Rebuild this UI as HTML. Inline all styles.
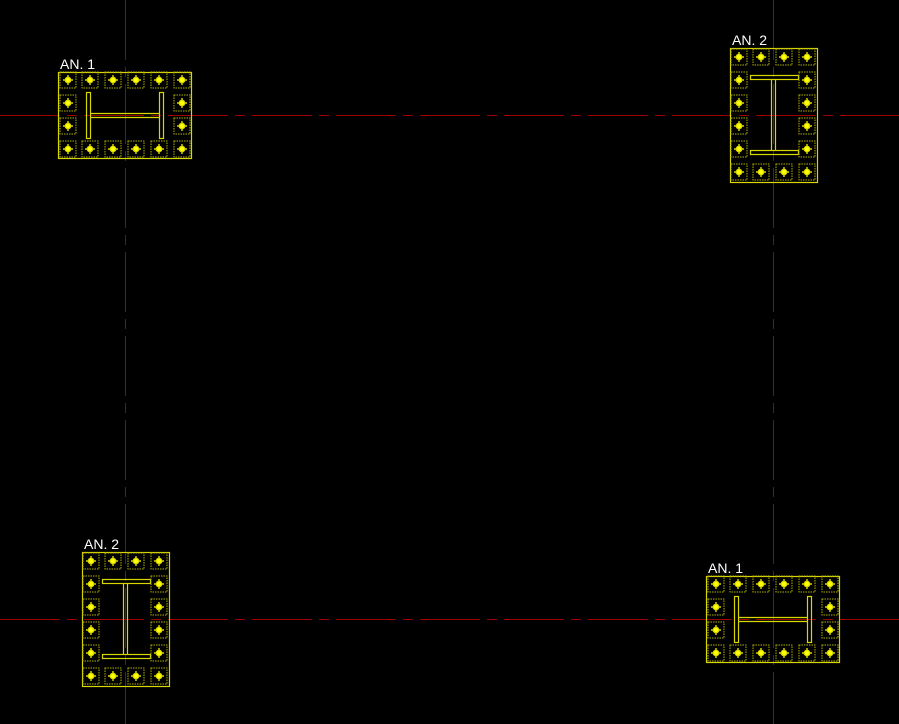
<!DOCTYPE html>
<html><head><style>html,body{margin:0;padding:0;background:#000;}svg{display:block}</style></head>
<body>
<svg width="899" height="724" xmlns="http://www.w3.org/2000/svg">
<defs>
<g id="cell">
<rect x="-8" y="-8" width="16" height="16" fill="none" stroke="#b0b000" stroke-width="1" stroke-dasharray="1.5,1"/>
<path d="M-5,0H5M0,-5V5" stroke="#ffff00" stroke-width="1.2"/>
<circle r="2.8" fill="#ffff00"/>
</g>
<g id="p1" fill="none" stroke="#d8d800" stroke-width="1.2">
<rect x="0.5" y="0.5" width="133" height="86"/>
<rect x="28.5" y="20.5" width="4" height="46"/>
<rect x="101.5" y="20.5" width="4" height="46"/>
<path d="M32.5,41.5H101.5M32.5,45.5H101.5"/>
<use href="#cell" x="10" y="8"/><use href="#cell" x="32" y="8"/><use href="#cell" x="55" y="8"/><use href="#cell" x="78" y="8"/><use href="#cell" x="101" y="8"/><use href="#cell" x="124" y="8"/>
<use href="#cell" x="10" y="77"/><use href="#cell" x="32" y="77"/><use href="#cell" x="55" y="77"/><use href="#cell" x="78" y="77"/><use href="#cell" x="101" y="77"/><use href="#cell" x="124" y="77"/>
<use href="#cell" x="10" y="31"/><use href="#cell" x="10" y="54"/><use href="#cell" x="124" y="31"/><use href="#cell" x="124" y="54"/>
</g>
<g id="p2" fill="none" stroke="#d8d800" stroke-width="1.2">
<rect x="0.5" y="0.5" width="87" height="134"/>
<rect x="20.5" y="27.5" width="48" height="4"/>
<rect x="20.5" y="102.5" width="48" height="4"/>
<path d="M41.5,31.5V102.5M45.5,31.5V102.5"/>
<use href="#cell" x="9" y="9"/><use href="#cell" x="31" y="9"/><use href="#cell" x="54" y="9"/><use href="#cell" x="77" y="9"/>
<use href="#cell" x="9" y="124"/><use href="#cell" x="31" y="124"/><use href="#cell" x="54" y="124"/><use href="#cell" x="77" y="124"/>
<use href="#cell" x="9" y="32"/><use href="#cell" x="9" y="55"/><use href="#cell" x="9" y="78"/><use href="#cell" x="9" y="101"/>
<use href="#cell" x="77" y="32"/><use href="#cell" x="77" y="55"/><use href="#cell" x="77" y="78"/><use href="#cell" x="77" y="101"/>
</g>
</defs>
<g stroke="#a00000" stroke-width="1" stroke-dasharray="60,7,10,7">
<line x1="0" y1="115.5" x2="899" y2="115.5"/>
<line x1="0" y1="619.5" x2="899" y2="619.5"/>
<line x1="125.5" y1="0" x2="125.5" y2="724"/>
<line x1="773.5" y1="0" x2="773.5" y2="724"/>
</g>
<use href="#p1" x="58" y="72"/>
<use href="#p2" x="730" y="48"/>
<use href="#p2" x="82" y="552"/>
<use href="#p1" x="706" y="576"/>
<g fill="#ffffff" font-family="Liberation Sans, sans-serif" font-size="14">
<text x="60" y="69">AN. 1</text>
<text x="732" y="45">AN. 2</text>
<text x="84" y="549">AN. 2</text>
<text x="708" y="573">AN. 1</text>
</g>
</svg>
</body></html>
